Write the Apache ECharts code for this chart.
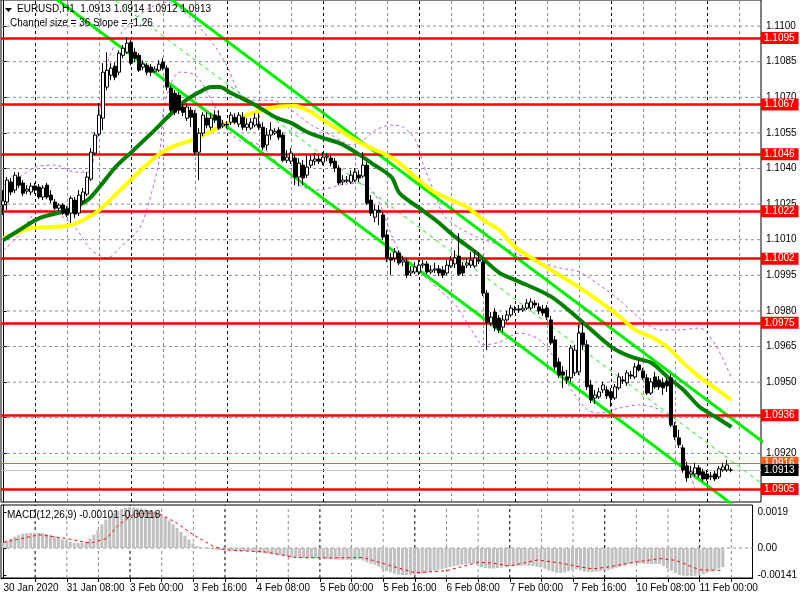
<!DOCTYPE html>
<html><head><meta charset="utf-8">
<script src="https://cdn.jsdelivr.net/npm/echarts@6/dist/echarts.min.js"></script>
<style>html,body{margin:0;padding:0;background:#fff}#c{width:800px;height:600px}</style>
</head><body><div id="c"></div>
<script>
// ---- candle data (EURUSD H1, 30 Jan 2020 16:00 .. 11 Feb 2020 06:00) ----
const opens = [1.10246,1.10259,1.10343,1.10309,1.10364,1.10339,1.10305,1.10301,1.10326,1.10322,
1.10280,1.10330,1.10288,1.10259,1.10233,1.10246,1.10229,1.10212,1.10267,1.10212,
1.10263,1.10292,1.10355,1.10465,1.10545,1.10612,1.10743,1.10793,1.10831,1.10806,
1.10877,1.10890,1.10932,1.10890,1.10877,1.10827,1.10835,1.10827,1.10810,1.10814,
1.10848,1.10823,1.10739,1.10717,1.10709,1.10659,1.10612,1.10646,1.10633,1.10469,
1.10549,1.10612,1.10574,1.10625,1.10621,1.10579,1.10587,1.10595,1.10616,1.10587,
1.10616,1.10574,1.10570,1.10583,1.10587,1.10574,1.10499,1.10541,1.10549,1.10562,
1.10541,1.10435,1.10431,1.10444,1.10364,1.10414,1.10372,1.10414,1.10431,1.10440,
1.10427,1.10448,1.10444,1.10431,1.10402,1.10343,1.10351,1.10343,1.10351,1.10372,
1.10368,1.10414,1.10267,1.10195,1.10225,1.10204,1.10120,1.10023,1.10023,1.10044,
1.10006,1.10006,1.09960,1.09964,1.09964,1.09993,1.09998,1.09964,1.09972,1.09977,
1.09972,1.09960,1.09989,1.09998,1.10031,1.09989,1.09993,1.09993,1.09989,1.10014,
1.10006,1.09875,1.09749,1.09795,1.09770,1.09732,1.09762,1.09783,1.09804,1.09808,
1.09804,1.09812,1.09812,1.09833,1.09817,1.09808,1.09812,1.09762,1.09678,1.09585,
1.09543,1.09522,1.09518,1.09539,1.09543,1.09707,1.09657,1.09488,1.09433,1.09438,
1.09467,1.09467,1.09459,1.09433,1.09476,1.09509,1.09497,1.09530,1.09522,1.09572,
1.09547,1.09518,1.09454,1.09522,1.09509,1.09497,1.09505,1.09518,1.09316,1.09265,
1.09223,1.09147,1.09113,1.09113,1.09139,1.09122,1.09113,1.09101,1.09113,1.09101,
1.09130,1.09130,1.0913];
const closes = [1.10263,1.10351,1.10301,1.10372,1.10330,1.10296,1.10313,1.10326,1.10309,1.10280,
1.10318,1.10280,1.10267,1.10233,1.10246,1.10212,1.10204,1.10275,1.10208,1.10288,
1.10301,1.10364,1.10469,1.10541,1.10625,1.10806,1.10814,1.10823,1.10785,1.10886,
1.10907,1.10928,1.10844,1.10865,1.10814,1.10840,1.10806,1.10806,1.10819,1.10840,
1.10823,1.10743,1.10646,1.10637,1.10646,1.10637,1.10659,1.10616,1.10469,1.10549,
1.10625,1.10583,1.10612,1.10604,1.10570,1.10587,1.10583,1.10625,1.10595,1.10625,
1.10574,1.10587,1.10595,1.10612,1.10574,1.10490,1.10541,1.10562,1.10557,1.10532,
1.10435,1.10448,1.10465,1.10364,1.10423,1.10360,1.10406,1.10435,1.10440,1.10431,
1.10448,1.10452,1.10423,1.10402,1.10339,1.10351,1.10347,1.10372,1.10385,1.10360,
1.10414,1.10254,1.10212,1.10225,1.10216,1.10111,1.10023,1.10014,1.10048,1.10002,
1.10014,1.09951,1.09968,1.09985,1.09993,1.09998,1.09964,1.09972,1.09977,1.09960,
1.09951,1.09993,1.10014,1.10023,1.09955,1.09960,1.10002,1.10014,1.10023,1.10010,
1.09875,1.09753,1.09774,1.09728,1.09720,1.09762,1.09783,1.09812,1.09808,1.09804,
1.09812,1.09833,1.09838,1.09825,1.09800,1.09791,1.09774,1.09665,1.09564,1.09530,
1.09530,1.09509,1.09644,1.09635,1.09707,1.09657,1.09480,1.09425,1.09446,1.09459,
1.09488,1.09442,1.09433,1.09480,1.09522,1.09505,1.09539,1.09526,1.09564,1.09551,
1.09518,1.09454,1.09501,1.09480,1.09480,1.09476,1.09484,1.09320,1.09269,1.09236,
1.09130,1.09097,1.09122,1.09139,1.09109,1.09092,1.09092,1.09105,1.09092,1.09135,
1.09143,1.09151,1.0913];
const highs = [1.10309,1.10364,1.10360,1.10385,1.10385,1.10351,1.10330,1.10339,1.10339,1.10334,
1.10330,1.10339,1.10309,1.10271,1.10254,1.10254,1.10242,1.10284,1.10280,1.10309,
1.10318,1.10385,1.10486,1.10553,1.10675,1.10844,1.10890,1.10844,1.10848,1.10898,
1.10920,1.10953,1.10941,1.10907,1.10886,1.10856,1.10844,1.10840,1.10831,1.10856,
1.10865,1.10835,1.10751,1.10730,1.10722,1.10675,1.10675,1.10659,1.10646,1.10570,
1.10637,1.10637,1.10633,1.10646,1.10646,1.10604,1.10600,1.10637,1.10633,1.10637,
1.10637,1.10612,1.10612,1.10633,1.10633,1.10595,1.10570,1.10595,1.10570,1.10574,
1.10553,1.10477,1.10486,1.10456,1.10444,1.10435,1.10456,1.10456,1.10465,1.10456,
1.10469,1.10465,1.10456,1.10444,1.10414,1.10372,1.10368,1.10393,1.10402,1.10393,
1.10469,1.10427,1.10288,1.10246,1.10246,1.10216,1.10141,1.10044,1.10065,1.10056,
1.10031,1.10023,1.09989,1.10006,1.10014,1.10014,1.10010,1.09993,1.10002,1.09993,
1.09989,1.10014,1.10031,1.10056,1.10128,1.10006,1.10023,1.10048,1.10056,1.10048,
1.10023,1.09888,1.09795,1.09812,1.09783,1.09783,1.09800,1.09825,1.09821,1.09825,
1.09825,1.09850,1.09854,1.09846,1.09833,1.09825,1.09825,1.09779,1.09694,1.09602,
1.09568,1.09551,1.09657,1.09657,1.09741,1.09753,1.09678,1.09509,1.09467,1.09476,
1.09501,1.09484,1.09476,1.09492,1.09539,1.09526,1.09551,1.09547,1.09581,1.09593,
1.09560,1.09534,1.09518,1.09543,1.09526,1.09518,1.09518,1.09534,1.09332,1.09299,
1.09236,1.09164,1.09147,1.09160,1.09151,1.09135,1.09130,1.09122,1.09126,1.09147,
1.09160,1.09172,1.0914];
const lows = [1.10204,1.10225,1.10288,1.10296,1.10318,1.10284,1.10292,1.10288,1.10292,1.10271,
1.10267,1.10271,1.10254,1.10225,1.10221,1.10204,1.10195,1.10170,1.10191,1.10200,
1.10250,1.10284,1.10347,1.10456,1.10536,1.10562,1.10730,1.10772,1.10772,1.10793,
1.10865,1.10882,1.10835,1.10848,1.10806,1.10814,1.10793,1.10789,1.10802,1.10806,
1.10814,1.10730,1.10637,1.10625,1.10629,1.10621,1.10600,1.10574,1.10456,1.10351,
1.10536,1.10570,1.10562,1.10591,1.10562,1.10570,1.10570,1.10583,1.10587,1.10574,
1.10562,1.10558,1.10562,1.10574,1.10562,1.10477,1.10477,1.10520,1.10541,1.10520,
1.10427,1.10423,1.10419,1.10330,1.10326,1.10330,1.10360,1.10402,1.10414,1.10419,
1.10414,1.10431,1.10410,1.10385,1.10330,1.10330,1.10339,1.10334,1.10343,1.10343,
1.10360,1.10246,1.10200,1.10174,1.10162,1.10099,1.10006,1.09951,1.10006,1.09993,
1.09989,1.09939,1.09947,1.09955,1.09951,1.09981,1.09955,1.09955,1.09960,1.09947,
1.09939,1.09951,1.09981,1.09981,1.09947,1.09947,1.09981,1.09981,1.09981,1.09998,
1.09863,1.09635,1.09737,1.09715,1.09707,1.09711,1.09753,1.09774,1.09791,1.09791,
1.09795,1.09804,1.09804,1.09812,1.09787,1.09779,1.09762,1.09657,1.09551,1.09518,
1.09476,1.09492,1.09501,1.09526,1.09530,1.09635,1.09467,1.09412,1.09408,1.09429,
1.09454,1.09429,1.09396,1.09425,1.09467,1.09492,1.09484,1.09513,1.09513,1.09543,
1.09509,1.09446,1.09446,1.09471,1.09467,1.09446,1.09459,1.09311,1.09257,1.09223,
1.09118,1.09080,1.09097,1.09101,1.09097,1.09084,1.09084,1.09088,1.09084,1.09092,
1.09122,1.09122,1.0912];

// ---- moving averages: [bar index, price] ----
const maGreen = [[0,1.10099],[4,1.10141],[9,1.10191],[16,1.10225],[21,1.10267],[24,1.10322],[28,1.10406],
[32,1.10469],[37,1.10549],[41,1.10616],[45,1.10680],[49,1.10722],[52,1.10743],[54,1.10743],[57,1.10717],
[59,1.10701],[63,1.10667],[68,1.10616],[72,1.10591],[76,1.10553],[80,1.10528],[84,1.10507],[88,1.10469],
[92,1.10423],[97,1.10364],[99,1.10296],[104,1.10233],[108,1.10183],[113,1.10111],[118,1.10048],
[124,1.09960],[128,1.09930],[137,1.09859],[145,1.09749],[152,1.09648],[157,1.09606],[162,1.09581],
[166,1.09522],[170,1.09467],[174,1.09396],[178,1.09354],[182,1.09311]];
const maYellow = [[0,1.10107],[7,1.10149],[16,1.10158],[20,1.10183],[24,1.10225],[30,1.10322],[38,1.10448],
[42,1.10490],[47,1.10520],[51,1.10549],[55,1.10583],[59,1.10612],[63,1.10637],[68,1.10659],[73,1.10663],
[77,1.10637],[80,1.10604],[84,1.10562],[88,1.10520],[92,1.10486],[96,1.10456],[99,1.10423],[103,1.10364],
[107,1.10309],[112,1.10267],[116,1.10237],[120,1.10183],[124,1.10141],[128,1.10069],[137,1.09972],
[145,1.09888],[153,1.09791],[158,1.09720],[162,1.09690],[166,1.09648],[170,1.09581],[174,1.09522],
[178,1.09475],[182,1.09425]];
// ---- envelope bands (violet dashed) ----
const bandUpper = [[0,1.10330],[4,1.10364],[8,1.10406],[13,1.10414],[18,1.10385],[21,1.10385],[23,1.10477],
[24,1.10633],[26,1.10844],[28,1.10928],[30,1.10983],[33,1.11033],[37,1.11080],[41,1.11101],[46,1.11046],
[49,1.10995],[53,1.10911],[56,1.10827],[59,1.10717],[62,1.10688],[67,1.10688],[72,1.10646],[77,1.10583],
[82,1.10541],[87,1.10499],[90,1.10520],[93,1.10562],[97,1.10583],[100,1.10574],[103,1.10520],[105,1.10414],
[108,1.10288],[110,1.10204],[114,1.10149],[119,1.10107],[124,1.10078],[129,1.10035],[134,1.10006],
[139,1.09981],[144,1.09964],[149,1.09909],[154,1.09846],[159,1.09770],[164,1.09720],[169,1.09720],
[174,1.09728],[178,1.09657],[182,1.09518]];
const bandLower = [[0,1.10056],[4,1.10120],[9,1.10225],[14,1.10204],[18,1.10149],[22,1.10056],[26,1.10023],
[29,1.10065],[34,1.10149],[37,1.10296],[39,1.10448],[40,1.10646],[42,1.10764],[44,1.10806],[48,1.10793],
[52,1.10688],[56,1.10562],[59,1.10520],[64,1.10499],[69,1.10414],[74,1.10330],[79,1.10309],[84,1.10330],
[89,1.10339],[93,1.10288],[97,1.10120],[100,1.10023],[104,1.09964],[109,1.09888],[113,1.09825],
[117,1.09720],[120,1.09657],[124,1.09669],[129,1.09707],[134,1.09678],[138,1.09593],[142,1.09467],
[146,1.09383],[149,1.09370],[154,1.09391],[159,1.09404],[164,1.09383],[167,1.09320],[170,1.09193],[173,1.09046]];
// ---- regression channel (size 36 pips, slope -1.26 pips/bar) ----
const channelLower = [[-20,1.11533],[200,1.08761]];
const channelMiddle = [[-20,1.11713],[200,1.08941]];
const channelUpper = [[-20,1.11893],[200,1.09121]];
// ---- horizontal levels ----
const redLevels = [1.1095,1.1067,1.1046,1.1022,1.1002,1.0975,1.0936,1.0905];
const askLevel = 1.0916;
const bidLevel = 1.0913;
// ---- axis ticks ----
const priceTicks = [1.1100,1.1085,1.1070,1.1055,1.1040,1.1025,1.1010,1.0995,1.0980,1.0965,1.0950,1.0935,1.0920];
const timeLabelIdx = [0,16,32,48,64,80,96,112,128,144,160,176];
const timeLabels = ['30 Jan 2020','31 Jan 08:00','3 Feb 00:00','3 Feb 16:00','4 Feb 08:00','5 Feb 00:00',
'5 Feb 16:00','6 Feb 08:00','7 Feb 00:00','7 Feb 16:00','10 Feb 08:00','11 Feb 00:00'];
const gridGrayIdx = [16,24,40,48,64,72,88,96,112,120,136,144,160,168,184];
const gridDayIdx = [8,32,56,80,104,128,152,176];
// ---- MACD(12,26,9) ----
const macdHist = [0.00032,0.00040,0.00050,0.00060,0.00068,0.00075,0.00078,0.00080,0.00080,0.00080,
0.00078,0.00075,0.00070,0.00062,0.00055,0.00045,0.00038,0.00032,0.00028,0.00026,
0.00028,0.00035,0.00050,0.00070,0.00095,0.00125,0.00150,0.00170,0.00185,0.00195,
0.00205,0.00212,0.00215,0.00212,0.00210,0.00208,0.00205,0.00200,0.00192,0.00185,
0.00175,0.00162,0.00145,0.00125,0.00105,0.00085,0.00065,0.00045,0.00025,0.00010,
0.00003,-0.00002,-0.00005,-0.00008,-0.00010,-0.00010,-0.00010,-0.00010,-0.00012,-0.00014,
-0.00015,-0.00016,-0.00017,-0.00018,-0.00020,-0.00025,-0.00028,-0.00030,-0.00032,-0.00034,
-0.00038,-0.00042,-0.00044,-0.00048,-0.00050,-0.00052,-0.00053,-0.00054,-0.00054,-0.00055,
-0.00056,-0.00056,-0.00057,-0.00058,-0.00060,-0.00062,-0.00062,-0.00062,-0.00062,-0.00062,
-0.00060,-0.00066,-0.00075,-0.00082,-0.00088,-0.00098,-0.00112,-0.00122,-0.00128,-0.00135,
-0.00140,-0.00143,-0.00143,-0.00142,-0.00140,-0.00138,-0.00134,-0.00130,-0.00126,-0.00120,
-0.00115,-0.00110,-0.00105,-0.00100,-0.00096,-0.00092,-0.00088,-0.00085,-0.00082,-0.00080,
-0.00088,-0.00100,-0.00106,-0.00108,-0.00108,-0.00106,-0.00103,-0.00100,-0.00097,-0.00095,
-0.00093,-0.00092,-0.00092,-0.00093,-0.00095,-0.00098,-0.00102,-0.00110,-0.00118,-0.00125,
-0.00130,-0.00132,-0.00128,-0.00122,-0.00115,-0.00112,-0.00118,-0.00124,-0.00126,-0.00126,
-0.00124,-0.00122,-0.00120,-0.00116,-0.00110,-0.00104,-0.00098,-0.00092,-0.00086,-0.00082,
-0.00080,-0.00082,-0.00084,-0.00084,-0.00084,-0.00084,-0.00084,-0.00095,-0.00108,-0.00120,
-0.00132,-0.00142,-0.00146,-0.00148,-0.00148,-0.00146,-0.00144,-0.00138,-0.00132,-0.00124,
-0.00116,-0.00108,-0.00101];
const macdSignal = [[0,0.00030],[9,0.00070],[16,0.00050],[22,0.00026],[26,0.00050],[29,0.00120],[33,0.00180],
[39,0.00185],[44,0.00130],[48,0.00070],[53,0.00010],[56,-0.00010],[66,-0.00020],[74,-0.00050],[83,-0.00052],
[91,-0.00050],[99,-0.00100],[104,-0.00130],[112,-0.00120],[120,-0.00075],[124,-0.00080],[128,-0.00095],
[135,-0.00063],[141,-0.00080],[146,-0.00100],[149,-0.00110],[153,-0.00100],[158,-0.00080],[166,-0.00055],
[170,-0.00065],[176,-0.00115],[182,-0.00118]];
const macdTicks = [0.0019, 0, -0.00141];
const macdTickLabels = ['0.0019', '0.00', '-0.00141'];

// ---------------------------------------------------------------
const N_SLOTS = 190;
const X_MIN = -0.625, X_MAX = N_SLOTS - 0.625;   // overlay axis: same 4px/bar scale, half-pixel aligned
const P_MIN = 1.08995, P_MAX = 1.11110;
const M_MIN = -0.00158, M_MAX = 0.00227;
const cats = Array.from({length: N_SLOTS}, (_, i) => String(i));
const candleData = opens.map((o, i) => [o, closes[i], lows[i], highs[i]]);
const FONT = 'Liberation Sans, Arial, sans-serif';
const GRID_GRAY = '#8c8c8c';

const chart = echarts.init(document.getElementById('c'), null, {renderer: 'canvas'});
const lvlLabel = (bg) => ({show: true, position: 'end', distance: 0, formatter: p => Number(p.value).toFixed(4),
  backgroundColor: bg, color: '#fff', fontFamily: FONT, fontSize: 10, padding: [1, 4, 0, 3], lineHeight: 11});
const gl = (xi, yi, pts, color) => ({type: 'line', xAxisIndex: xi, yAxisIndex: yi, data: pts, z: 1, silent: true,
  symbol: 'none', animation: false, lineStyle: {color: color, width: 1, type: [3, 3]}});

const gridSeries = [];
priceTicks.forEach(v => gridSeries.push(gl(1, 0, [[X_MIN, v], [X_MAX, v]], GRID_GRAY)));
gridGrayIdx.forEach(i => {
  gridSeries.push(gl(1, 0, [[i, P_MIN], [i, P_MAX]], GRID_GRAY));
  gridSeries.push(gl(3, 1, [[i, M_MIN], [i, M_MAX]], GRID_GRAY));
});
gridDayIdx.forEach(i => {
  gridSeries.push(gl(1, 0, [[i, P_MIN], [i, P_MAX]], '#000'));
  gridSeries.push(gl(3, 1, [[i, M_MIN], [i, M_MAX]], '#000'));
});
gridSeries.push(gl(3, 1, [[X_MIN, 0], [X_MAX, 0]], GRID_GRAY));

chart.setOption({
  animation: false,
  backgroundColor: '#fff',
  grid: [
    {left: 1, top: 0, width: 760, height: 502, show: true, borderColor: '#000', borderWidth: 1, backgroundColor: '#fff'},
    {left: 1, top: 505, width: 760, height: 73, show: true, borderColor: '#000', borderWidth: 1, backgroundColor: '#fff'}
  ],
  xAxis: [
    {type: 'category', gridIndex: 0, data: cats, boundaryGap: true, show: false},
    {type: 'value', gridIndex: 0, min: X_MIN, max: X_MAX, show: false},
    {type: 'category', gridIndex: 1, data: cats, boundaryGap: true, show: false},
    {type: 'value', gridIndex: 1, min: X_MIN, max: X_MAX, position: 'bottom',
      axisLine: {show: true, lineStyle: {color: '#000', width: 1}},
      axisTick: {show: true, length: 4, lineStyle: {color: '#000'}, customValues: gridGrayIdx.concat(gridDayIdx)},
      axisLabel: {show: true, customValues: timeLabelIdx, align: 'left', margin: 5, color: '#000', fontFamily: FONT, fontSize: 10,
        formatter: v => timeLabels[timeLabelIdx.indexOf(Math.round(v))] || ''},
      splitLine: {show: false}}
  ],
  yAxis: [
    {type: 'value', gridIndex: 0, position: 'right', min: P_MIN, max: P_MAX, scale: true,
      axisLine: {show: true, lineStyle: {color: '#000'}},
      axisTick: {show: true, length: 3, customValues: priceTicks, lineStyle: {color: '#000'}},
      axisLabel: {show: true, customValues: priceTicks, margin: 5, color: '#000', fontFamily: FONT, fontSize: 10,
        formatter: v => v.toFixed(4)},
      splitLine: {show: false}},
    {type: 'value', gridIndex: 1, position: 'right', min: M_MIN, max: M_MAX,
      axisLine: {show: true, lineStyle: {color: '#000'}},
      axisTick: {show: true, length: 3, customValues: macdTicks, lineStyle: {color: '#000'}},
      axisLabel: {show: true, customValues: macdTicks, margin: 5, color: '#000', fontFamily: FONT, fontSize: 10,
        formatter: v => { const k = macdTicks.findIndex(t => Math.abs(t - v) < 1e-7); return k >= 0 ? macdTickLabels[k] : ''; }},
      splitLine: {show: false}}
  ],
  series: gridSeries.concat([
    // bid / ask lines
    {type: 'line', xAxisIndex: 1, yAxisIndex: 0, data: [], z: 6, silent: true,
      markLine: {silent: true, precision: 6, symbol: ['none', 'none'],
        data: [
          {yAxis: askLevel, lineStyle: {color: '#ff5a1f', width: 1, type: 'solid'}, label: lvlLabel('#ff5a1f')},
          {yAxis: bidLevel, lineStyle: {color: '#c0c0c0', width: 1, type: 'solid'}, label: lvlLabel('#000')}
        ]}},
    // red support / resistance levels
    {type: 'line', xAxisIndex: 1, yAxisIndex: 0, data: [], z: 7, silent: true,
      markLine: {silent: true, precision: 6, symbol: ['none', 'none'], lineStyle: {color: '#ff0000', width: 2.5, type: 'solid'},
        label: lvlLabel('#ff0000'), data: redLevels.map(v => ({yAxis: v}))}},
    // bands
    {type: 'line', xAxisIndex: 1, yAxisIndex: 0, data: bandUpper, z: 3, symbol: 'none', smooth: 0.3,
      lineStyle: {color: '#b45ee6', width: 1, type: [3, 3]}},
    {type: 'line', xAxisIndex: 1, yAxisIndex: 0, data: bandLower, z: 3, symbol: 'none', smooth: 0.3,
      lineStyle: {color: '#b45ee6', width: 1, type: [3, 3]}},
    // channel
    {type: 'line', xAxisIndex: 1, yAxisIndex: 0, data: channelLower, z: 4, symbol: 'none',
      lineStyle: {color: '#00ee00', width: 3}},
    {type: 'line', xAxisIndex: 1, yAxisIndex: 0, data: channelUpper, z: 4, symbol: 'none',
      lineStyle: {color: '#00ee00', width: 3}},
    {type: 'line', xAxisIndex: 1, yAxisIndex: 0, data: channelMiddle, z: 4, symbol: 'none',
      lineStyle: {color: '#00ee00', width: 1, type: [4, 4]}},
    // moving averages
    {type: 'line', xAxisIndex: 1, yAxisIndex: 0, data: maYellow, z: 5, symbol: 'none', smooth: 0.3,
      lineStyle: {color: '#ffff00', width: 4}},
    {type: 'line', xAxisIndex: 1, yAxisIndex: 0, data: maGreen, z: 5, symbol: 'none', smooth: 0.3,
      lineStyle: {color: '#008000', width: 4}},
    // candles
    {type: 'candlestick', xAxisIndex: 0, yAxisIndex: 0, data: candleData, z: 8, barWidth: 3,
      itemStyle: {color: '#ffffff', color0: '#000000', borderColor: '#000000', borderColor0: '#000000', borderWidth: 1}},
    // MACD histogram
    {type: 'bar', xAxisIndex: 2, yAxisIndex: 1, data: macdHist, barWidth: 3, z: 3,
      itemStyle: {color: '#c0c0c0'}},
    // MACD signal
    {type: 'line', xAxisIndex: 3, yAxisIndex: 1, data: macdSignal, z: 4, symbol: 'none',
      lineStyle: {color: '#ff0000', width: 1, type: [3, 3]}}
  ]),
  graphic: [
    {type: 'polygon', shape: {points: [[5, 8], [12, 8], [8.5, 12]]}, style: {fill: '#000'}, z: 100},
    {type: 'text', left: 17, top: 4, z: 100, style: {text: 'EURUSD,H1  1.0913 1.0914 1.0912 1.0913', fill: '#000', font: '10px ' + FONT}},
    {type: 'text', left: 10, top: 18, z: 100, style: {text: 'Channel size = 36 Slope = -1.26', fill: '#000', font: '10px ' + FONT}},
    {type: 'text', left: 7, top: 510, z: 100, style: {text: 'MACD(12,26,9) -0.00101 -0.00118', fill: '#000', font: '10px ' + FONT}}
  ]
});
</script>
</body></html>
